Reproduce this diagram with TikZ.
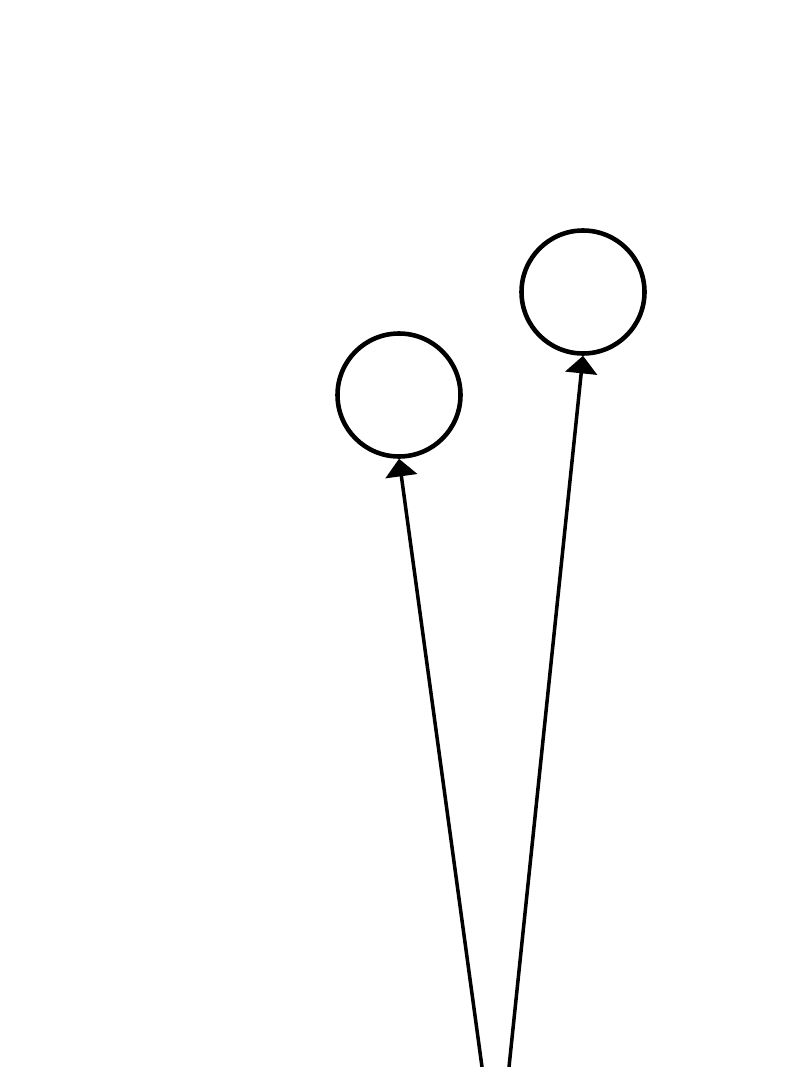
\documentclass[tikz,border=0pt]{standalone}
\usetikzlibrary{arrows.meta}

\begin{document}
\begin{tikzpicture}
    \tikzset{
      leaf/.style={circle, draw, line width=2.6pt, minimum size=2.46cm, inner sep=0pt},
      edge/.style={line width=2pt, -{Triangle[width=18pt, length=10pt]}}
    }
    \useasboundingbox (0,0) rectangle (16,-21.34);

    \node[leaf] (left) at (7.98,-7.90) {};
    \node[leaf] (right) at (11.66,-5.84) {};

    % edges come in from below the page
    \coordinate (fromleft) at (9.64,-21.34);
    \coordinate (fromright) at (10.18,-21.34);

    \draw[edge] (fromleft) -- (left.south);
    \draw[edge] (fromright) -- (right.south);
\end{tikzpicture}
\end{document}
